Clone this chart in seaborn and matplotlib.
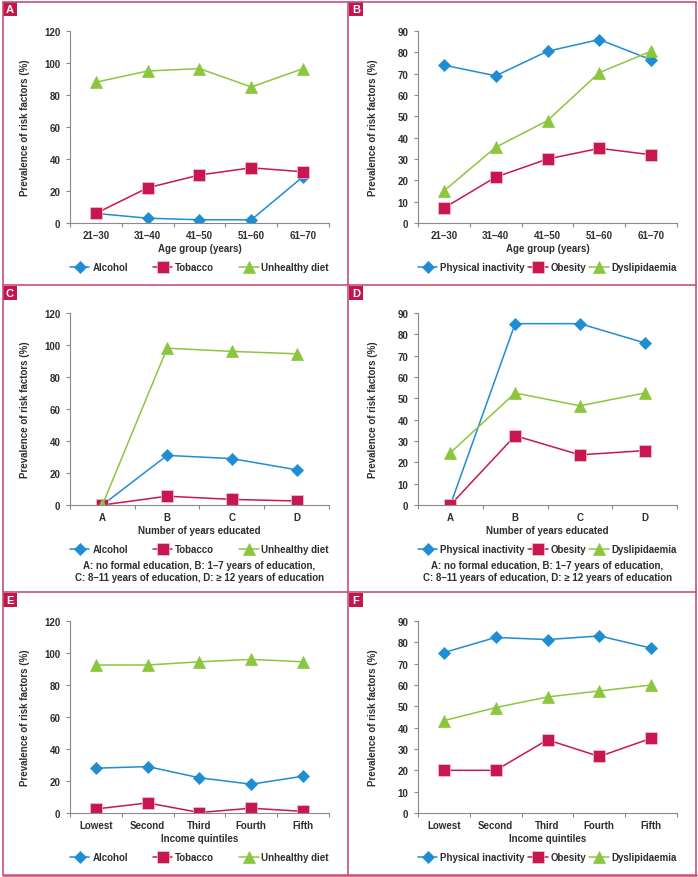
import matplotlib
matplotlib.use("Agg")
import numpy as np
import pandas as pd
import seaborn as sns
import matplotlib.pyplot as plt
from matplotlib.patches import Rectangle
from matplotlib.lines import Line2D

# ---------------- data ----------------
age_groups = ["21–30", "31–40", "41–50", "51–60", "61–70"]
edu_groups = ["A", "B", "C", "D"]
income_groups = ["Lowest", "Second", "Third", "Fourth", "Fifth"]

# Panel A (age)
a_alcohol = [6, 3, 2, 2, 29]
a_tobacco = [6, 22, 30, 34.5, 32]
a_diet = [88, 95, 96.5, 85, 96.5]
# Panel B (age)
b_inactivity = [74, 69, 80.5, 86, 76.5]
b_obesity = [7, 21.5, 30, 35, 32]
b_dyslip = [15, 35.5, 48, 70.5, 80.5]
# Panel C (education)
c_alcohol = [0, 31, 29, 22]
c_tobacco = [0, 5.5, 3.5, 2.5]
c_diet = [0, 98, 96, 94.5]
# Panel D (education)
d_inactivity = [0, 85, 85, 76]
d_obesity = [0, 32.5, 23.5, 25.5]
d_dyslip = [24.5, 52.5, 46.5, 52.5]
# Panel E (income)
e_alcohol = [28, 29, 22, 18, 23]
e_tobacco = [2.5, 6.3, 0.3, 3, 1]
e_diet = [92.5, 92.5, 94.5, 96, 94.5]
# Panel F (income)
f_inactivity = [75.2, 82.3, 81.3, 83, 77.3]
f_obesity = [20, 20, 34.3, 26.5, 35]
f_dyslip = [43.3, 49.4, 54.4, 57.2, 60]

names_left = ["Alcohol", "Tobacco", "Unhealthy diet"]
names_right = ["Physical inactivity", "Obesity", "Dyslipidaemia"]
footnote = ("A: no formal education, B: 1–7 years of education,\n"
            "C: 8–11 years of education, D: ≥ 12 years of education")

# ---------------- style ----------------
sns.set_theme(style="white")
plt.rcParams["font.family"] = ["Liberation Sans", "DejaVu Sans"]

BLUE = "#1f8dd2"
RED = "#c8174f"
GREEN = "#8cc63f"
SPINE = "#8a8a8a"
TEXT = "#2e2e2e"
BORDER = "#c84f78"
BOXC = "#c3164d"
FS = 7

W, H = 698, 878
fig = plt.figure(figsize=(W / 100, H / 100), dpi=100)
fig.patch.set_facecolor("white")


def add_axes(left, top, right, bottom):
    return fig.add_axes([left / W, 1 - bottom / H, (right - left) / W, (bottom - top) / H])


# marker, size, colour, edge colour
MARKERS = [("D", 5.8, BLUE, BLUE), ("s", 8.2, RED, "#f3c6d3"), ("^", 8.4, GREEN, GREEN)]


def draw(ax, cats, series, names, ymax, step, xlabel, note=None):
    for vals, (mk, ms, col, ec), name in zip(series, MARKERS, names):
        df = pd.DataFrame({"cat": cats, "val": vals})
        sns.lineplot(data=df, x="cat", y="val", ax=ax, sort=False, errorbar=None,
                     color=col, marker=mk, markersize=ms, linewidth=1.1,
                     markeredgecolor=ec, markeredgewidth=0.5, legend=False)
    n = len(cats)
    ax.set_xlim(-0.5, n - 0.5)
    ax.set_ylim(0, ymax)
    ax.set_yticks(np.arange(0, ymax + 1, step))
    ax.set_xticks(np.arange(n))
    ax.set_xticklabels(cats)
    ax.set_xticks(np.arange(-0.5, n, 1.0), minor=True)
    ax.tick_params(axis="x", which="major", bottom=True, length=0, pad=5,
                   labelsize=FS, labelcolor=TEXT)
    ax.tick_params(axis="x", which="minor", bottom=True, length=3.2, width=0.8,
                   color=SPINE, direction="out")
    ax.tick_params(axis="y", which="major", left=True, length=3, width=0.8,
                   color=SPINE, direction="out", pad=4, labelsize=FS, labelcolor=TEXT)
    for lab in ax.get_xticklabels() + ax.get_yticklabels():
        lab.set_fontweight("bold")
    for s in ["top", "right"]:
        ax.spines[s].set_visible(False)
    for s in ["left", "bottom"]:
        ax.spines[s].set_color(SPINE)
        ax.spines[s].set_linewidth(0.8)
    ax.set_xlabel(xlabel, fontsize=FS, fontweight="bold", color=TEXT, labelpad=2)
    ax.set_ylabel("Prevalence of risk factors (%)", fontsize=FS, fontweight="bold", color=TEXT)
    ax.yaxis.set_label_coords(-0.155, 0.5)
    ax.grid(False)
    leg = ax.legend(ax.lines[:3], names, loc="center", bbox_to_anchor=(0, -0.229, 1, 0),
                    mode="expand", ncol=3, frameon=False, handlelength=2.0,
                    handletextpad=0.3, borderaxespad=0, borderpad=0, columnspacing=0.5,
                    numpoints=1, prop={"weight": "bold", "size": FS})
    for t in leg.get_texts():
        t.set_color(TEXT)
    if note:
        ax.text(0.5, -0.345, note, transform=ax.transAxes, ha="center", va="center",
                fontsize=FS, fontweight="bold", color=TEXT, linespacing=1.25)


axA = add_axes(70, 32, 329, 224)
axB = add_axes(418, 32, 677, 224)
axC = add_axes(70, 314, 329, 506)
axD = add_axes(418, 314, 677, 506)
axE = add_axes(70, 622, 329, 814)
axF = add_axes(418, 622, 677, 814)

draw(axA, age_groups, [a_alcohol, a_tobacco, a_diet], names_left, 120, 20, "Age group (years)")
draw(axB, age_groups, [b_inactivity, b_obesity, b_dyslip], names_right, 90, 10, "Age group (years)")
draw(axC, edu_groups, [c_alcohol, c_tobacco, c_diet], names_left, 120, 20, "Number of years educated", footnote)
draw(axD, edu_groups, [d_inactivity, d_obesity, d_dyslip], names_right, 90, 10, "Number of years educated", footnote)
draw(axE, income_groups, [e_alcohol, e_tobacco, e_diet], names_left, 120, 20, "Income quintiles")
draw(axF, income_groups, [f_inactivity, f_obesity, f_dyslip], names_right, 90, 10, "Income quintiles")


# ---------------- panel frames ----------------
def fline(x0, y0, x1, y1, lw=1.2):
    fig.add_artist(Line2D([x0 / W, x1 / W], [1 - y0 / H, 1 - y1 / H],
                          transform=fig.transFigure, color=BORDER, linewidth=lw))


fline(2.5, 2.5, 695.5, 2.5)
fline(2.5, 875.5, 695.5, 875.5, lw=1.8)
fline(2.5, 2.5, 2.5, 875.5)
fline(695.5, 2.5, 695.5, 875.5)
fline(348, 2.5, 348, 875.5)
fline(2.5, 286, 695.5, 286)
fline(2.5, 593, 695.5, 593)

for letter, (x, y) in zip("ABCDEF", [(3, 3), (349, 3), (3, 287), (349, 287), (3, 594), (349, 594)]):
    fig.add_artist(Rectangle((x / W, 1 - (y + 14) / H), 14 / W, 14 / H,
                             transform=fig.transFigure, facecolor=BOXC, edgecolor="none"))
    fig.text((x + 7) / W, 1 - (y + 7.3) / H, letter, color="white", fontsize=8,
             fontweight="bold", ha="center", va="center")

fig.savefig("out.png", dpi=100)
